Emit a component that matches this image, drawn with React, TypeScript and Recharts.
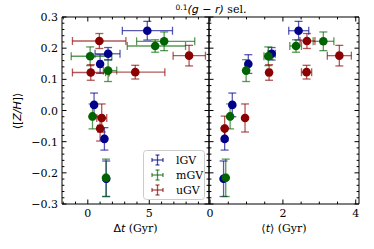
import { ScatterChart, Scatter, XAxis, YAxis, ErrorBar, Legend } from 'recharts';

// lGV
const lgvZH = [0.256, 0.182, 0.149, 0.018, -0.091, -0.219];
const lgvZHErr = [0.03, 0.02, 0.03, 0.038, 0.036, 0.057];
const lgvDt = [4.84, 1.65, 1.0, 0.51, 1.35, 1.5];
const lgvDtErrLo = [2.03, 1.06, 0.15, 0.1, 0.1, 0.1];
const lgvDtErrHi = [2.05, 0.97, 0.15, 0.1, 0.1, 0.1];
const lgvAge = [2.43, 1.69, 1.05, 0.61, 0.4, 0.37];
const lgvAgeErrLo = [0.27, 0.1, 0.03, 0.03, 0.03, 0.03];
const lgvAgeErrHi = [0.28, 0.1, 0.03, 0.03, 0.03, 0.03];

// mGV
const mgvZH = [0.222, 0.207, 0.174, 0.128, -0.019, -0.216];
const mgvZHErr = [0.03, 0.02, 0.03, 0.035, 0.04, 0.06];
const mgvDt = [6.21, 5.48, 0.19, 1.65, 0.38, 1.48];
const mgvDtErrLo = [2.24, 2.27, 1.54, 0.38, 0.1, 0.1];
const mgvDtErrHi = [2.49, 2.47, 1.76, 0.7, 0.1, 0.1];
const mgvAge = [3.11, 2.36, 1.6, 0.99, 0.55, 0.43];
const mgvAgeErrLo = [0.28, 0.17, 0.12, 0.03, 0.03, 0.03];
const mgvAgeErrHi = [0.29, 0.15, 0.12, 0.03, 0.03, 0.03];

// uGV
const ugvZH = [0.223, 0.176, 0.122, 0.123, -0.024, -0.058];
const ugvZHErr = [0.024, 0.033, 0.025, 0.022, 0.045, 0.04];
const ugvDt = [0.94, 8.24, 0.24, 3.86, 1.13, 1.0];
const ugvDtErrLo = [2.19, 1.3, 1.49, 2.41, 0.4, 0.2];
const ugvDtErrHi = [2.16, 1.33, 1.5, 2.41, 0.41, 0.2];
const ugvAge = [2.66, 3.55, 1.62, 2.65, 0.96, 0.4];
const ugvAgeErrLo = [0.19, 0.33, 0.05, 0.14, 0.03, 0.03];
const ugvAgeErrHi = [0.22, 0.33, 0.05, 0.14, 0.03, 0.03];

const yMajor = [-0.3, -0.2, -0.1, 0, 0.1, 0.2, 0.3];
const dtMajor = [0, 5];
const ageMajor = [0, 2, 4];

const yMinor = Array.from({ length: 31 }, (_, k) => Math.round(k * 2 - 30) / 100);
const dtMinor = Array.from({ length: 12 }, (_, k) => k - 2);
const ageMinor = Array.from({ length: 9 }, (_, k) => k * 0.5);

const series = [
  { name: 'lGV', color: '#00008b', zh: lgvZH, zhErr: lgvZHErr, dt: lgvDt, dtLo: lgvDtErrLo, dtHi: lgvDtErrHi, age: lgvAge, ageLo: lgvAgeErrLo, ageHi: lgvAgeErrHi },
  { name: 'mGV', color: '#006400', zh: mgvZH, zhErr: mgvZHErr, dt: mgvDt, dtLo: mgvDtErrLo, dtHi: mgvDtErrHi, age: mgvAge, ageLo: mgvAgeErrLo, ageHi: mgvAgeErrHi },
  { name: 'uGV', color: '#8b0000', zh: ugvZH, zhErr: ugvZHErr, dt: ugvDt, dtLo: ugvDtErrLo, dtHi: ugvDtErrHi, age: ugvAge, ageLo: ugvAgeErrLo, ageHi: ugvAgeErrHi },
];

const build = (xs: number[], lo: number[], hi: number[], ys: number[], ye: number[]) =>
  xs.map((x, i) => ({ x, y: ys[i], xe: [lo[i], hi[i]], ye: ye[i] }));

const W = 374;
const H = 249;
const TOP = 17;
const BOTTOM = 204;
const LEFT = 62;
const MID = 209;
const RIGHT = 359;

const serif = 'DejaVu Serif';
const sans = 'DejaVu Sans';

const fmtY = (v: number) => (v < 0 ? '\u2212' : '') + Math.abs(v).toFixed(1);

// ticks point inwards, minor ticks are shorter and unlabelled
const makeTick = (side: string, majors: number[], labels: boolean, fmt?: (v: number) => string) => (props: any) => {
  const { x, y, payload } = props;
  const v = payload.value;
  const major = majors.some((m) => Math.abs(m - v) < 1e-6);
  const len = major ? 4.5 : 2.4;
  let line;
  let label = null;
  const txt = fmt ? fmt(v) : String(v);
  if (side === 'bottom') {
    line = <line x1={x} y1={y} x2={x} y2={y - len} stroke="#000" />;
    if (major && labels)
      label = <text x={x} y={y + 13} textAnchor="middle" fontFamily={serif} fontSize={11} fill="#000">{txt}</text>;
  } else if (side === 'top') {
    line = <line x1={x} y1={y} x2={x} y2={y + len} stroke="#000" />;
  } else if (side === 'left') {
    line = <line x1={x} y1={y} x2={x + len} y2={y} stroke="#000" />;
    if (major && labels)
      label = <text x={x - 4} y={y + 4} textAnchor="end" fontFamily={serif} fontSize={11} fill="#000">{txt}</text>;
  } else {
    line = <line x1={x} y1={y} x2={x - len} y2={y} stroke="#000" />;
  }
  return <g>{line}{label}</g>;
};

const renderLegend = () => (
  <svg width={62} height={50} style={{ display: 'block' }}>
    <rect x={0.5} y={0.5} width={61} height={49} rx={3} fill="#fff" fillOpacity={0.8} stroke="#cccccc" />
    {series.map((s, i) => {
      const cy = 10 + i * 15;
      return (
        <g key={s.name}>
          <g stroke={s.color} strokeOpacity={0.7} strokeWidth={1.3}>
            <line x1={9} y1={cy} x2={20} y2={cy} />
            <line x1={14.5} y1={cy - 5} x2={14.5} y2={cy + 5} />
            <line x1={9} y1={cy - 2} x2={9} y2={cy + 2} />
            <line x1={20} y1={cy - 2} x2={20} y2={cy + 2} />
            <line x1={12.5} y1={cy - 5} x2={16.5} y2={cy - 5} />
            <line x1={12.5} y1={cy + 5} x2={16.5} y2={cy + 5} />
          </g>
          <text x={33} y={cy + 4} fontFamily={serif} fontSize={11} fill="#000">{s.name}</text>
        </g>
      );
    })}
  </svg>
);

function Panel(props: {
  which: 'dt' | 'age';
  domain: [number, number];
  majors: number[];
  minors: number[];
  margin: { left: number; right: number; top: number; bottom: number };
  yLabels: boolean;
  legend: boolean;
}) {
  const { which, domain, majors, minors, margin, yLabels, legend } = props;
  return (
    <ScatterChart width={W} height={H} margin={margin}>
      <XAxis xAxisId={0} type="number" dataKey="x" domain={domain} allowDataOverflow ticks={minors} interval={0}
        height={1} tickSize={0} tickMargin={0} tickLine={false} axisLine={{ stroke: '#000' }}
        tick={makeTick('bottom', majors, true, (v) => String(v))} />
      <XAxis xAxisId="top" orientation="top" type="number" dataKey="x" domain={domain} allowDataOverflow ticks={minors} interval={0}
        height={1} tickSize={0} tickMargin={0} tickLine={false} axisLine={{ stroke: '#000' }}
        tick={makeTick('top', majors, false)} />
      <YAxis yAxisId={0} type="number" dataKey="y" domain={[-0.3, 0.3]} allowDataOverflow ticks={yMinor} interval={0}
        width={1} tickSize={0} tickMargin={0} tickLine={false} axisLine={{ stroke: '#000' }}
        tick={makeTick('left', yMajor, yLabels, fmtY)} />
      <YAxis yAxisId="right" orientation="right" type="number" dataKey="y" domain={[-0.3, 0.3]} allowDataOverflow ticks={yMinor} interval={0}
        width={1} tickSize={0} tickMargin={0} tickLine={false} axisLine={{ stroke: '#000' }}
        tick={makeTick('right', yMajor, false)} />
      {legend && (
        <Legend layout="horizontal" verticalAlign="middle" align="center" content={renderLegend}
          wrapperStyle={{ left: 143, top: 150, width: 62, height: 50 }} />
      )}
      {series.map((s) => (
        <Scatter
          key={s.name}
          name={s.name}
          xAxisId={0}
          yAxisId={0}
          data={which === 'dt' ? build(s.dt, s.dtLo, s.dtHi, s.zh, s.zhErr) : build(s.age, s.ageLo, s.ageHi, s.zh, s.zhErr)}
          fill={s.color}
          isAnimationActive={false}
          shape={(p: any) => <circle cx={p.cx} cy={p.cy} r={4.3} fill={s.color} />}
        >
          <ErrorBar dataKey="xe" direction="x" width={4} stroke={s.color} strokeOpacity={0.65} strokeWidth={1.3} />
          <ErrorBar dataKey="ye" direction="y" width={4} stroke={s.color} strokeOpacity={0.65} strokeWidth={1.3} />
        </Scatter>
      ))}
    </ScatterChart>
  );
}

export default function App() {
  return (
    <div style={{ position: 'absolute', left: 0, top: 0, width: W, height: H, background: '#fff' }}>
      <div style={{ position: 'absolute', left: 0, top: 0 }}>
        <Panel which="dt" domain={[-2.1, 9.86]} majors={dtMajor} minors={dtMinor}
          margin={{ left: LEFT - 1, right: W - MID - 1, top: TOP - 1, bottom: H - BOTTOM - 1 }} yLabels legend />
      </div>
      <div style={{ position: 'absolute', left: 0, top: 0 }}>
        <Panel which="age" domain={[-0.03, 4.09]} majors={ageMajor} minors={ageMinor}
          margin={{ left: MID - 1, right: W - RIGHT - 1, top: TOP - 1, bottom: H - BOTTOM - 1 }} yLabels={false} legend={false} />
      </div>
      <svg width={W} height={H} style={{ position: 'absolute', left: 0, top: 0, pointerEvents: 'none' }}>
        <text x={211} y={13} textAnchor="middle" fontSize={11} fill="#000">
          <tspan fontFamily={sans} fontSize={7.5} dy={-3}>0.1</tspan>
          <tspan fontFamily={sans} fontStyle="italic" dy={3}>(g {'\u2212'} r)</tspan>
          <tspan fontFamily={serif}> sel.</tspan>
        </text>
        <text x={135.5} y={232} textAnchor="middle" fontSize={11} fill="#000">
          <tspan fontFamily={sans}>{'\u0394'}</tspan>
          <tspan fontFamily={sans} fontStyle="italic">t</tspan>
          <tspan fontFamily={serif}> (Gyr)</tspan>
        </text>
        <text x={284} y={232} textAnchor="middle" fontSize={11} fill="#000">
          <tspan fontFamily={sans}>{'\u27E8'}</tspan>
          <tspan fontFamily={sans} fontStyle="italic">t</tspan>
          <tspan fontFamily={sans}>{'\u27E9'}</tspan>
          <tspan fontFamily={serif}> (Gyr)</tspan>
        </text>
        <text x={0} y={0} transform="translate(21,111) rotate(-90)" textAnchor="middle" fontSize={11} fill="#000" fontFamily={sans}>
          <tspan>{'\u27E8['}</tspan>
          <tspan fontStyle="italic">Z/H</tspan>
          <tspan>{']\u27E9'}</tspan>
        </text>
      </svg>
    </div>
  );
}
